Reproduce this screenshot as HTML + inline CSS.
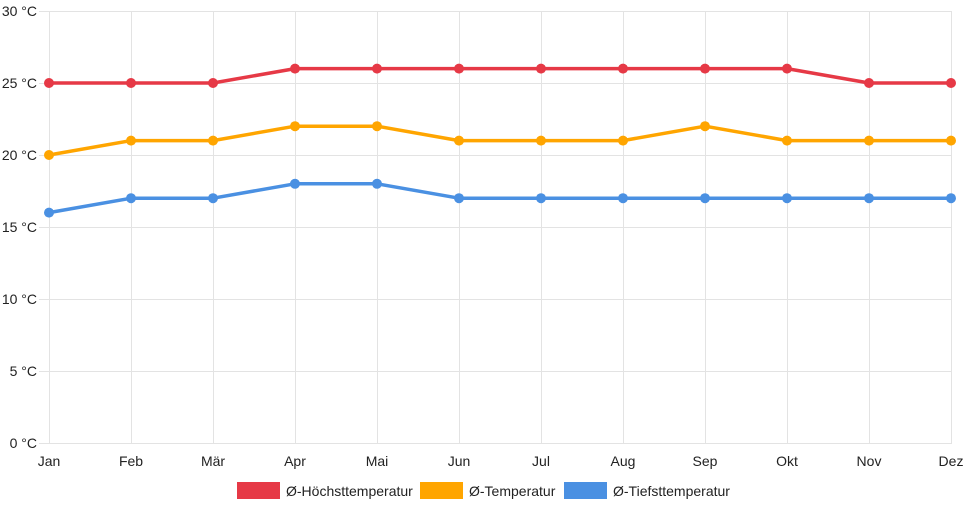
<!DOCTYPE html>
<html><head><meta charset="utf-8"><style>
html,body{margin:0;padding:0;background:#fff;}
svg{display:block;font-family:"Liberation Sans",Arial,sans-serif;}
</style></head><body>
<svg width="968" height="508" viewBox="0 0 968 508" xmlns="http://www.w3.org/2000/svg">
<g stroke="#e3e3e3" stroke-width="1">
<line x1="39" y1="11.5" x2="952" y2="11.5"/>
<line x1="39" y1="83.5" x2="952" y2="83.5"/>
<line x1="39" y1="155.5" x2="952" y2="155.5"/>
<line x1="39" y1="227.5" x2="952" y2="227.5"/>
<line x1="39" y1="299.5" x2="952" y2="299.5"/>
<line x1="39" y1="371.5" x2="952" y2="371.5"/>
<line x1="39" y1="443.5" x2="952" y2="443.5"/>
<line x1="49.5" y1="11" x2="49.5" y2="444"/>
<line x1="131.5" y1="11" x2="131.5" y2="444"/>
<line x1="213.5" y1="11" x2="213.5" y2="444"/>
<line x1="295.5" y1="11" x2="295.5" y2="444"/>
<line x1="377.5" y1="11" x2="377.5" y2="444"/>
<line x1="459.5" y1="11" x2="459.5" y2="444"/>
<line x1="541.5" y1="11" x2="541.5" y2="444"/>
<line x1="623.5" y1="11" x2="623.5" y2="444"/>
<line x1="705.5" y1="11" x2="705.5" y2="444"/>
<line x1="787.5" y1="11" x2="787.5" y2="444"/>
<line x1="869.5" y1="11" x2="869.5" y2="444"/>
<line x1="951.5" y1="11" x2="951.5" y2="444"/>
</g>
<g font-size="14" fill="#222" text-anchor="end">
<text x="37" y="16">30 °C</text>
<text x="37" y="88">25 °C</text>
<text x="37" y="160">20 °C</text>
<text x="37" y="232">15 °C</text>
<text x="37" y="304">10 °C</text>
<text x="37" y="376">5 °C</text>
<text x="37" y="448">0 °C</text>
</g>
<g font-size="14" fill="#222" text-anchor="middle">
<text x="49" y="466">Jan</text>
<text x="131" y="466">Feb</text>
<text x="213" y="466">Mär</text>
<text x="295" y="466">Apr</text>
<text x="377" y="466">Mai</text>
<text x="459" y="466">Jun</text>
<text x="541" y="466">Jul</text>
<text x="623" y="466">Aug</text>
<text x="705" y="466">Sep</text>
<text x="787" y="466">Okt</text>
<text x="869" y="466">Nov</text>
<text x="951" y="466">Dez</text>
</g>
<g fill="none" stroke-width="3.5" stroke-linejoin="round">
<polyline stroke="#e63946" points="49,83 131,83 213,83 295,68.6 377,68.6 459,68.6 541,68.6 623,68.6 705,68.6 787,68.6 869,83 951,83"/>
<polyline stroke="#ffa500" points="49,155 131,140.6 213,140.6 295,126.2 377,126.2 459,140.6 541,140.6 623,140.6 705,126.2 787,140.6 869,140.6 951,140.6"/>
<polyline stroke="#4a90e2" points="49,212.6 131,198.2 213,198.2 295,183.8 377,183.8 459,198.2 541,198.2 623,198.2 705,198.2 787,198.2 869,198.2 951,198.2"/>
</g>
<g fill="#e63946">
<circle cx="49" cy="83" r="5"/><circle cx="131" cy="83" r="5"/><circle cx="213" cy="83" r="5"/><circle cx="295" cy="68.6" r="5"/><circle cx="377" cy="68.6" r="5"/><circle cx="459" cy="68.6" r="5"/><circle cx="541" cy="68.6" r="5"/><circle cx="623" cy="68.6" r="5"/><circle cx="705" cy="68.6" r="5"/><circle cx="787" cy="68.6" r="5"/><circle cx="869" cy="83" r="5"/><circle cx="951" cy="83" r="5"/>
</g>
<g fill="#ffa500">
<circle cx="49" cy="155" r="5"/><circle cx="131" cy="140.6" r="5"/><circle cx="213" cy="140.6" r="5"/><circle cx="295" cy="126.2" r="5"/><circle cx="377" cy="126.2" r="5"/><circle cx="459" cy="140.6" r="5"/><circle cx="541" cy="140.6" r="5"/><circle cx="623" cy="140.6" r="5"/><circle cx="705" cy="126.2" r="5"/><circle cx="787" cy="140.6" r="5"/><circle cx="869" cy="140.6" r="5"/><circle cx="951" cy="140.6" r="5"/>
</g>
<g fill="#4a90e2">
<circle cx="49" cy="212.6" r="5"/><circle cx="131" cy="198.2" r="5"/><circle cx="213" cy="198.2" r="5"/><circle cx="295" cy="183.8" r="5"/><circle cx="377" cy="183.8" r="5"/><circle cx="459" cy="198.2" r="5"/><circle cx="541" cy="198.2" r="5"/><circle cx="623" cy="198.2" r="5"/><circle cx="705" cy="198.2" r="5"/><circle cx="787" cy="198.2" r="5"/><circle cx="869" cy="198.2" r="5"/><circle cx="951" cy="198.2" r="5"/>
</g>
<g font-size="14" fill="#222">
<rect x="237" y="482" width="43" height="17" fill="#e63946"/>
<text x="286" y="496">Ø-Höchsttemperatur</text>
<rect x="420" y="482" width="43" height="17" fill="#ffa500"/>
<text x="469" y="496">Ø-Temperatur</text>
<rect x="564" y="482" width="43" height="17" fill="#4a90e2"/>
<text x="613" y="496">Ø-Tiefsttemperatur</text>
</g>
</svg>
</body></html>
